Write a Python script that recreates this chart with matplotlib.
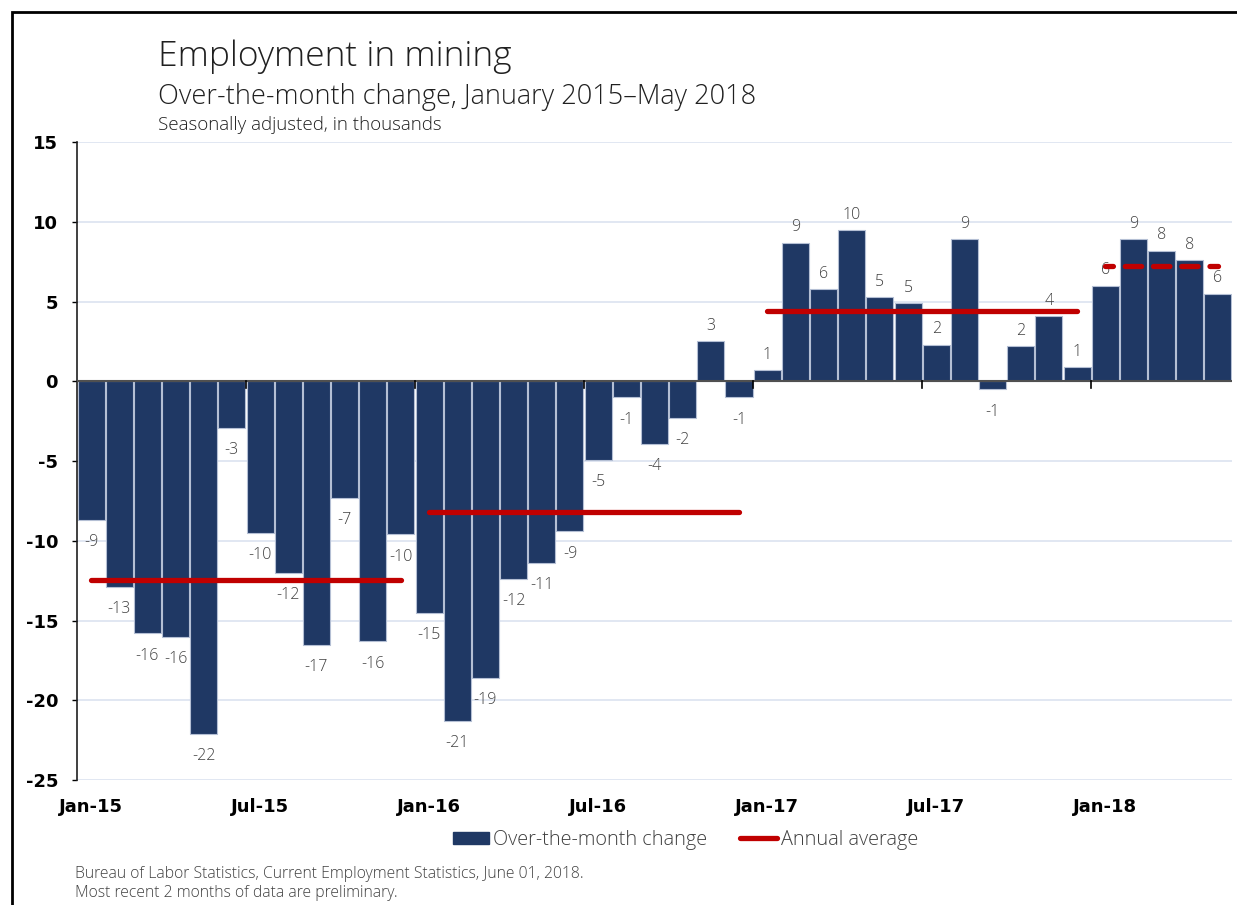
import numpy as np
import matplotlib
matplotlib.use("Agg")
import matplotlib.pyplot as plt
from matplotlib.patches import Rectangle, Patch
from matplotlib.lines import Line2D

# Over-the-month change in mining employment, thousands (Jan 2015 - May 2018)
years = [2015, 2016, 2017, 2018]
change_2015 = [-8.7, -12.9, -15.8, -16.0, -22.1, -2.9, -9.5, -12.0, -16.5, -7.3, -16.3, -9.6]
change_2016 = [-14.5, -21.3, -18.6, -12.4, -11.4, -9.4, -4.9, -1.0, -3.9, -2.3, 2.5, -1.0]
change_2017 = [0.7, 8.7, 5.8, 9.5, 5.3, 4.9, 2.3, 8.9, -0.5, 2.2, 4.1, 0.9]
change_2018 = [6.0, 8.9, 8.2, 7.6, 5.5]

tick_labels = ["Jan-15", "Jul-15", "Jan-16", "Jul-16", "Jan-17", "Jul-17", "Jan-18"]
tick_months = [0, 6, 12, 18, 24, 30, 36]

NAVY = "#1f3864"
RED = "#c00000"
TEXT = "#404040"
GRID = "#dce3f0"
LIGHT = "Open Sans"

by_year = [change_2015, change_2016, change_2017, change_2018]
values = np.concatenate(by_year)
x = np.arange(len(values))


def round_half_away(v):
    return int(np.sign(v) * np.floor(abs(v) + 0.5 + 1e-9))


fig = plt.figure(figsize=(12.37, 9.05), dpi=100)
ax = fig.add_axes([0.0622, 0.138, 0.9338, 0.705])

ax.bar(x, values, width=0.96, color=NAVY, edgecolor="#b4bfd4", linewidth=0.8, zorder=2)

# value labels above / below each bar
for xi, v in zip(x, values):
    off = 11 if v >= 0 else -16
    ax.annotate(f"{round_half_away(v)}", (xi, v), xytext=(0, off), textcoords="offset points",
                ha="center", va="center", fontsize=11.5, color=TEXT, family=LIGHT,
                fontweight="light", zorder=3)

# annual averages, dashed for the partial year
start = 0
for yr, vals in zip(years, by_year):
    n = len(vals)
    avg = np.mean(vals)
    ls = (1.6, (3.1, 2.25)) if n < 12 else "-"
    ax.plot([start, start + n - 1], [avg, avg], color=RED, lw=3.8, ls=ls,
            solid_capstyle="round", dash_capstyle="round", zorder=4)
    start += n

ax.set_xlim(-0.5, len(values) - 0.5)
ax.set_ylim(-25, 15)
ax.set_yticks(np.arange(-25, 16, 5))
for yv in np.arange(-25, 16, 5):
    if yv != 0:
        ax.axhline(yv, color=GRID, lw=1.2, zorder=1)

# zero line with half-year ticks
ax.axhline(0, color="#505050", lw=1.5, zorder=3)
for b in range(6, len(values), 6):
    ax.plot([b - 0.5, b - 0.5], [0, -0.4], color="black", lw=1.2, zorder=3)

for s in ["top", "right", "bottom"]:
    ax.spines[s].set_visible(False)
ax.spines["left"].set_color("#202020")
ax.spines["left"].set_linewidth(1.2)
ax.tick_params(axis="y", length=3.6, width=1.0, pad=10, labelsize=13)
ax.set_yticklabels([str(v) for v in np.arange(-25, 16, 5)], fontweight="bold", family="DejaVu Sans")
ax.set_xticks(tick_months)
ax.set_xticklabels(tick_labels, fontweight="bold", family="DejaVu Sans", fontsize=13)
ax.tick_params(axis="x", length=0, pad=13)

fig.text(0.128, 0.927, "Employment in mining", fontsize=25.5, family=LIGHT, fontweight="light",
         color="#202020", va="baseline")
fig.text(0.128, 0.885, "Over-the-month change, January 2015\u2013May 2018", fontsize=19.5,
         family=LIGHT, fontweight="light", color="#202020", va="baseline")
fig.text(0.128, 0.856, "Seasonally adjusted, in thousands", fontsize=13.5, family=LIGHT,
         fontweight="light", color="#202020", va="baseline")

handles = [Patch(facecolor=NAVY, edgecolor=NAVY),
           Line2D([0], [0], color=RED, lw=3.8, solid_capstyle="round")]
fig.legend(handles, ["Over-the-month change", "Annual average"], loc="center",
           bbox_to_anchor=(0.554, 0.072), ncol=2, frameon=False, handlelength=1.85,
           handleheight=0.6, handletextpad=0.2, columnspacing=1.65,
           prop={"family": LIGHT, "weight": "light", "size": 14.3}, labelcolor=TEXT)

fig.text(0.0606, 0.0298, "Bureau of Labor Statistics, Current Employment Statistics, June 01, 2018.",
         fontsize=11.3, family=LIGHT, fontweight="light", color=TEXT, va="baseline")
fig.text(0.0606, 0.0085, "Most recent 2 months of data are preliminary.",
         fontsize=11.3, family=LIGHT, fontweight="light", color=TEXT, va="baseline")

# outer frame
fig.patches.append(Rectangle((12 / 1237, -0.5), 2.0, 1.5 - 12 / 905, transform=fig.transFigure,
                             fill=False, edgecolor="black", lw=2.0))

fig.savefig("out.png", dpi=100)
